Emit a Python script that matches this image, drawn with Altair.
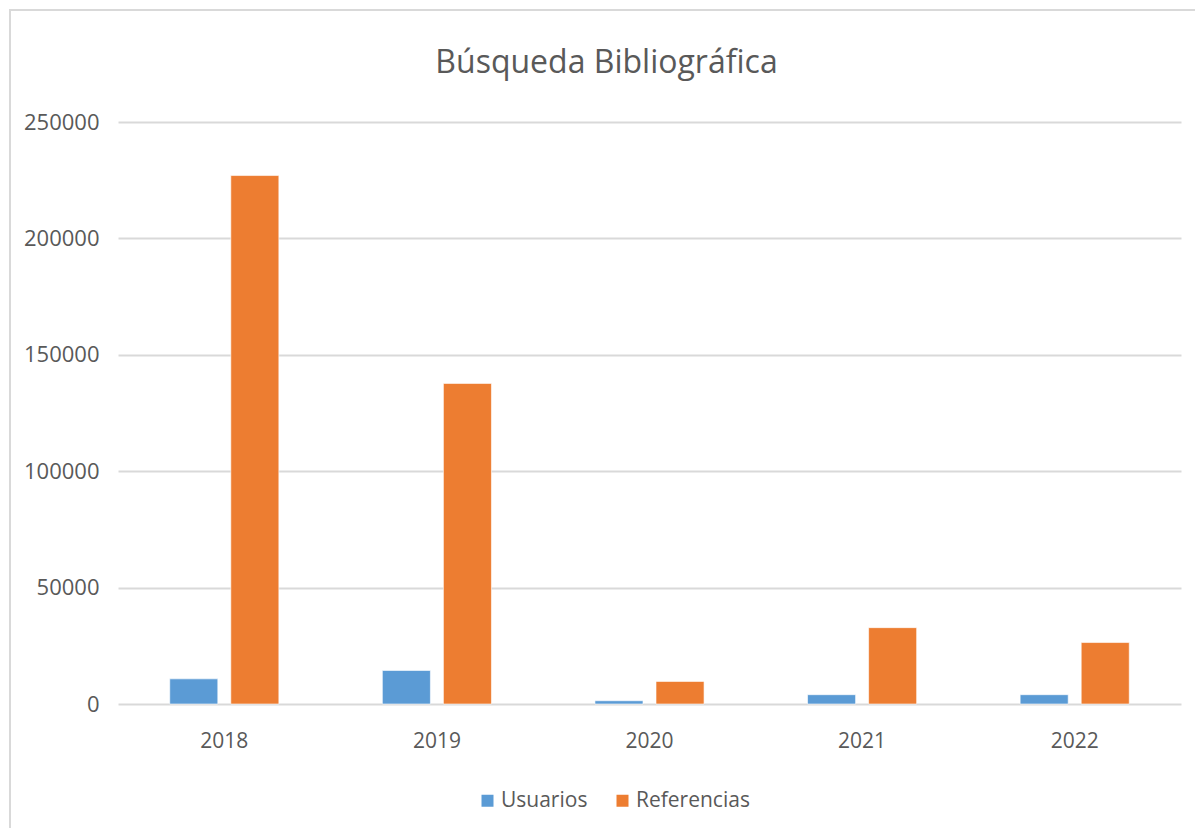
import altair as alt
import pandas as pd

years = ["2018", "2019", "2020", "2021", "2022"]
usuarios = [10800, 14400, 1400, 4000, 4000]
referencias = [227000, 137700, 9700, 32800, 26400]
series = ["Usuarios", "Referencias"]
colors = ["#5B9BD5", "#ED7D31"]
y_ticks = [0, 50000, 100000, 150000, 200000, 250000]

rows = []
for i, yr in enumerate(years):
    rows.append({"Año": yr, "Serie": "Usuarios", "Valor": usuarios[i]})
    rows.append({"Año": yr, "Serie": "Referencias", "Valor": referencias[i]})
df = pd.DataFrame(rows)

FONT = "Open Sans"
TXT = "#595959"
GRID = "#d9d9d9"

bars = alt.Chart(df).mark_bar(stroke="white", strokeWidth=1, strokeOpacity=0.6).encode(
    x=alt.X("Año:N", sort=years,
            scale=alt.Scale(paddingInner=0.4868, paddingOuter=0.2434),
            axis=alt.Axis(title=None, labelAngle=0, ticks=False, domain=False,
                          labelFont=FONT, labelFontSize=21, labelColor=TXT,
                          labelPadding=26, grid=False)),
    xOffset=alt.XOffset("Serie:N", sort=series,
                        scale=alt.Scale(domain=series, paddingInner=0.213, paddingOuter=0)),
    y=alt.Y("Valor:Q",
            scale=alt.Scale(domain=[0, 250000], nice=False),
            axis=alt.Axis(title=None, values=y_ticks, format="d", ticks=False, domain=False,
                          labelFont=FONT, labelFontSize=22, labelColor=TXT, labelPadding=19,
                          grid=True, gridColor=GRID, gridWidth=2)),
    color=alt.Color("Serie:N", sort=series,
                    scale=alt.Scale(domain=series, range=colors),
                    legend=alt.Legend(title=None, orient="none", legendX=359, legendY=668,
                                      direction="horizontal", symbolType="square",
                                      symbolSize=144, symbolStrokeWidth=0,
                                      labelFont=FONT, labelFontSize=21, labelColor=TXT,
                                      columnPadding=24, labelOffset=3)),
)

frame = alt.Chart(alt.Data(values=[{"k": 1}])).mark_rect(
    fill=None, stroke=GRID, strokeWidth=2
).encode(
    x=alt.value(-108), x2=alt.value(1300),
    y=alt.value(-112), y2=alt.value(1000),
)

chart = alt.layer(frame, bars).properties(
    width=1063, height=582,
    padding={"left": 110, "top": 114, "right": 14, "bottom": 124},
    autosize=alt.AutoSizeParams(type="none"),
    title=alt.TitleParams("Búsqueda Bibliográfica", font=FONT, fontSize=32, fontWeight="normal",
                          color=TXT, anchor="middle", baseline="alphabetic", offset=-96, dx=-43),
    background="white",
).configure_view(stroke=None)

chart.save("out.html", embed_options={"renderer": "svg", "actions": False})
